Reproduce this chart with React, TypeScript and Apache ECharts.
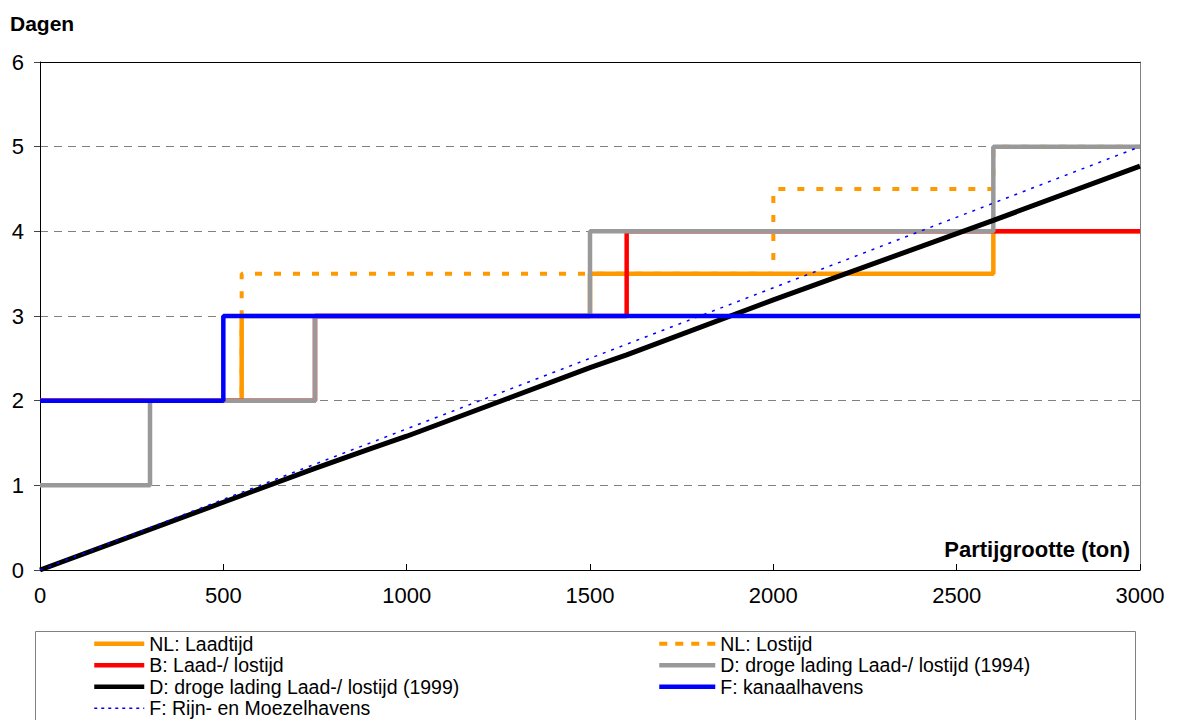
import React, { useEffect, useRef } from "react";
import * as echarts from "echarts";

const xTicks = [0, 500, 1000, 1500, 2000, 2500, 3000];
const yTicks = [0, 1, 2, 3, 4, 5, 6];

const nlLaadX = [0, 550, 550, 1500, 1500, 2600, 2600, 3000];
const nlLaadY = [2, 2, 3, 3, 3.5, 3.5, 4, 4];

const nlLosX = [0, 550, 550, 2000, 2000, 2600, 2600, 3000];
const nlLosY = [2, 2, 3.5, 3.5, 4.5, 4.5, 5, 5];

const bX = [0, 750, 750, 1600, 1600, 3000];
const bY = [2, 2, 3, 3, 4, 4];

const d94X = [0, 300, 300, 750, 750, 1500, 1500, 2600, 2600, 3000];
const d94Y = [1, 1, 2, 2, 3, 3, 4, 4, 5, 5];

const d99X = [0, 300, 500, 550, 750, 900, 1000, 1500, 1600, 2000, 2600, 3000];
const d99Y = [0, 0.48, 0.8, 0.88, 1.2, 1.43, 1.58, 2.39, 2.54, 3.19, 4.13, 4.77];

const fKanX = [0, 500, 500, 3000];
const fKanY = [2, 2, 3, 3];

const fRijnX = [0, 3000];
const fRijnY = [0, 5];

const names = [
  "NL: Laadtijd",
  "NL: Lostijd",
  "B: Laad-/ lostijd",
  "D: droge lading Laad-/ lostijd (1994)",
  "D: droge lading Laad-/ lostijd (1999)",
  "F: kanaalhavens",
  "F: Rijn- en Moezelhavens",
];

const zip = (xs: number[], ys: number[]) => xs.map((x, i) => [x, ys[i]]);

const FONT = "'Liberation Sans', Arial, sans-serif";

export default function App() {
  const ref = useRef<HTMLDivElement>(null);
  useEffect(() => {
    if (!ref.current) return;
    const chart = echarts.init(ref.current, undefined, { renderer: "svg" });
    const mk = (name: string, xs: number[], ys: number[], lineStyle: any) => ({
      name,
      type: "line",
      data: zip(xs, ys),
      symbol: "none",
      lineStyle,
      itemStyle: { color: lineStyle.color },
      xAxisIndex: 0,
      yAxisIndex: 0,
    });
    const legendCommon = {
      orient: "vertical",
      top: 633,
      padding: 0,
      itemGap: 0,
      itemHeight: 14,
      itemStyle: { opacity: 0, borderWidth: 0 },
      textStyle: { fontSize: 19.5, lineHeight: 21.5, color: "#000", fontFamily: FONT },
    };
    chart.setOption({
      animation: false,
      textStyle: { fontFamily: FONT },
      grid: { left: 40, right: 38, top: 62, bottom: 150, containLabel: false },
      xAxis: [
        {
          type: "value",
          min: 0,
          max: 3000,
          interval: 500,
          axisLine: { show: true, lineStyle: { color: "#000", width: 1 } },
          axisTick: { show: true, inside: true, length: 6, lineStyle: { color: "#000" } },
          axisLabel: {
            color: "#000",
            fontSize: 22,
            fontFamily: FONT,
            margin: 14,
            formatter: (v: number) => (xTicks.includes(v) ? String(v) : ""),
          },
          splitLine: { show: false },
        },
        {
          type: "value",
          position: "top",
          min: 0,
          max: 3000,
          axisLine: { show: true, onZero: false, lineStyle: { color: "#000", width: 1 } },
          axisTick: { show: false },
          axisLabel: { show: false },
          splitLine: { show: false },
        },
      ],
      yAxis: [
        {
          type: "value",
          min: 0,
          max: 6,
          interval: 1,
          axisLine: { show: true, lineStyle: { color: "#000", width: 1 } },
          axisTick: { show: true, length: 6, lineStyle: { color: "#444" } },
          axisLabel: {
            color: "#000",
            fontSize: 22,
            fontFamily: FONT,
            margin: 16,
            formatter: (v: number) => (yTicks.includes(v) ? String(v) : ""),
          },
          splitLine: { show: true, lineStyle: { color: "#808080", type: [8, 6], width: 1 } },
        },
        {
          type: "value",
          position: "right",
          min: 0,
          max: 6,
          axisLine: { show: true, onZero: false, lineStyle: { color: "#808080", width: 1 } },
          axisTick: { show: false },
          axisLabel: { show: false },
          splitLine: { show: false },
        },
      ],
      legend: [
        {
          ...legendCommon,
          left: 92,
          itemWidth: 50,
          data: [
            { name: names[0], lineStyle: { width: 4.5 } },
            { name: names[2], lineStyle: { width: 4.5 } },
            { name: names[4], lineStyle: { width: 4.5 } },
            { name: names[6], lineStyle: { type: [3, 4], width: 1.5 } },
          ],
        },
        {
          ...legendCommon,
          left: 657,
          itemWidth: 56,
          data: [
            { name: names[1], lineStyle: { type: [8, 8], width: 4 } },
            { name: names[3], lineStyle: { width: 4.5 } },
            { name: names[5], lineStyle: { width: 4.5 } },
          ],
        },
      ],
      graphic: [
        {
          type: "rect",
          shape: { x: 35.5, y: 631.5, width: 1100, height: 100 },
          style: { fill: "none", stroke: "#808080", lineWidth: 1 },
          z: -1,
        },
        {
          type: "text",
          x: 10,
          y: 23,
          style: {
            text: "Dagen",
            font: `bold 21px ${FONT}`,
            fill: "#000",
            textVerticalAlign: "middle",
          },
        },
        {
          type: "text",
          x: 1130,
          y: 549,
          style: {
            text: "Partijgrootte (ton)",
            font: `bold 22px ${FONT}`,
            fill: "#000",
            textAlign: "right",
            textVerticalAlign: "middle",
          },
        },
      ],
      series: [
        mk(names[0], nlLaadX, nlLaadY, { color: "#FF9900", width: 4.5 }),
        mk(names[1], nlLosX, nlLosY, { color: "#FF9900", width: 4, type: [7, 12] }),
        mk(names[2], bX, bY, { color: "#FF0000", width: 4.5 }),
        mk(names[3], d94X, d94Y, { color: "#999999", width: 4.5 }),
        mk(names[4], d99X, d99Y, { color: "#000000", width: 5 }),
        mk(names[5], fKanX, fKanY, { color: "#0000FF", width: 4.5 }),
        mk(names[6], fRijnX, fRijnY, { color: "#0000FF", width: 1.5, type: [3, 6] }),
      ],
    });
    return () => chart.dispose();
  }, []);
  return (
    <div
      ref={ref}
      style={{ position: "fixed", left: 0, top: 0, width: 1178, height: 720, background: "#fff" }}
    />
  );
}
